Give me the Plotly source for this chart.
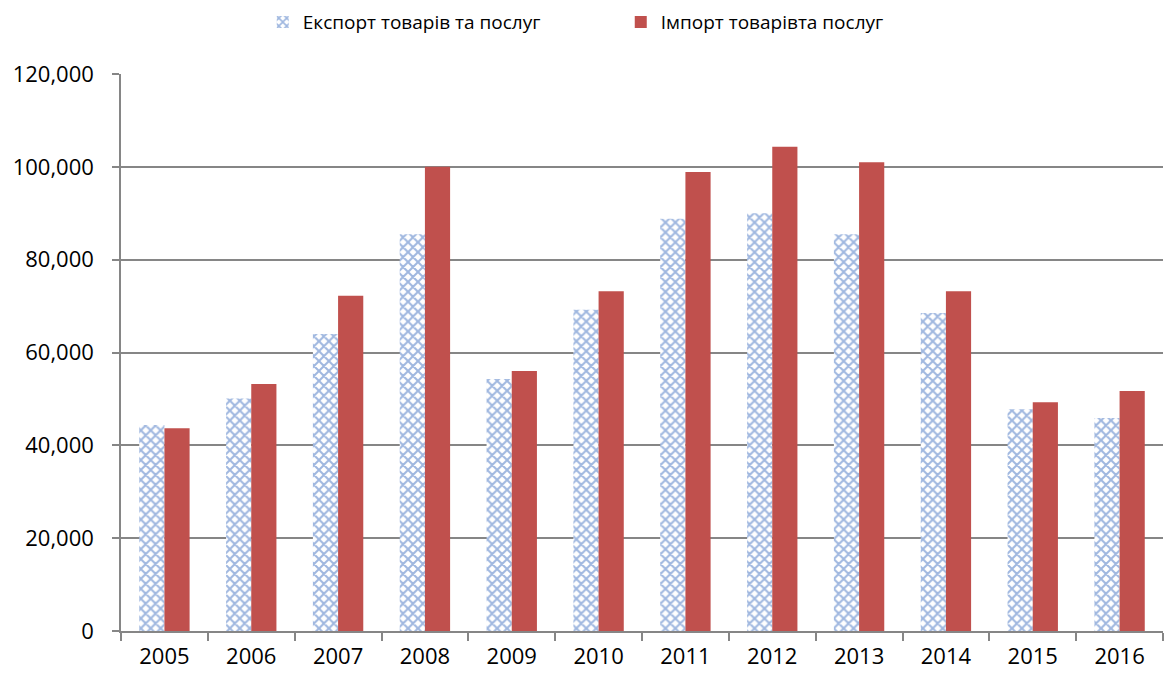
import plotly.graph_objects as go

years = ["2005", "2006", "2007", "2008", "2009", "2010", "2011", "2012", "2013", "2014", "2015", "2016"]
export_vals = [44400, 50100, 64000, 85500, 54300, 69200, 88800, 90000, 85500, 68500, 47800, 45900]
import_vals = [43700, 53200, 72200, 100000, 56000, 73200, 98900, 104300, 101000, 73200, 49300, 51700]
y_ticks = [0, 20000, 40000, 60000, 80000, 100000, 120000]
y_tick_labels = ["0", "20,000", "40,000", "60,000", "80,000", "100,000", "120,000"]

fig = go.Figure()
fig.add_trace(go.Bar(
    x=years, y=export_vals, name="Експорт товарів та послуг",
    marker=dict(color="white", line=dict(width=0),
                pattern=dict(shape="x", fgcolor="#3F6FC0", bgcolor="white", size=7, solidity=0.5)),
))
fig.add_trace(go.Bar(
    x=years, y=import_vals, name="Імпорт товарівта послуг",
    marker=dict(color="#C0504D", line=dict(width=0)),
))

fig.update_layout(
    width=1158, height=663,
    margin=dict(l=113, r=3, t=66, b=40, autoexpand=False),
    paper_bgcolor="white", plot_bgcolor="white",
    barmode="group", bargap=0.42, bargroupgap=0,
    font=dict(family="Open Sans, Noto Sans, sans-serif", color="#000000", size=22),
    legend=dict(orientation="h", x=0.22, xref="container", xanchor="left", y=1.093, yref="paper",
                yanchor="middle", font=dict(size=19), entrywidth=313, bgcolor="rgba(0,0,0,0)"),
    showlegend=True,
)
fig.update_xaxes(
    type="category", showgrid=False, showline=True, linecolor="#868686", linewidth=1.5,
    ticks="outside", tickson="boundaries", ticklen=8, tickcolor="#868686", tickwidth=1.5,
    tickfont=dict(size=22), automargin=False, ticklabelstandoff=5,
)
fig.update_yaxes(
    range=[0, 120000], tickvals=y_ticks, ticktext=y_tick_labels,
    showgrid=True, gridcolor="#868686", gridwidth=1.5,
    showline=True, linecolor="#868686", linewidth=1.5,
    ticks="outside", ticklen=7, tickcolor="#868686", tickwidth=1.5,
    zeroline=False, tickfont=dict(size=22), automargin=False, ticklabelstandoff=14,
)

fig.write_html("out.html")
